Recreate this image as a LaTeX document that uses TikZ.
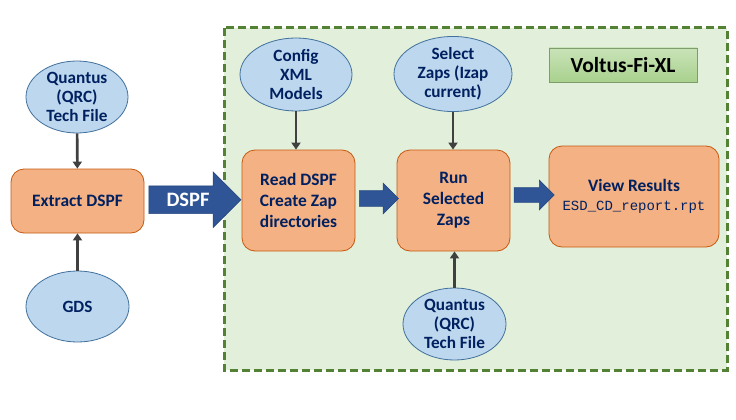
\documentclass[tikz,border=0pt]{standalone}
\usepackage{fontspec}
\setmainfont{Carlito}
\setmonofont{Liberation Mono}
\usetikzlibrary{arrows.meta,shapes.geometric,shapes.arrows,calc}
\definecolor{inputblue}{HTML}{BDD7EE}
\definecolor{inputline}{HTML}{41719C}
\definecolor{stepfill}{HTML}{F4B183}
\definecolor{stepline}{HTML}{C55A11}
\definecolor{navytext}{HTML}{002060}
\definecolor{flowblue}{HTML}{2F5597}
\definecolor{zonefill}{HTML}{E2EFDA}
\definecolor{zoneline}{HTML}{548235}
\definecolor{toolgreen}{HTML}{A9D18E}
\definecolor{toollight}{HTML}{C9E3B8}
\definecolor{feedgray}{HTML}{404040}

\begin{document}
\begin{tikzpicture}[x=1pt,y=-1pt,
    inputfile/.style={ellipse,draw=inputline,fill=inputblue,line width=0.8pt,inner sep=0pt,minimum width=102pt,minimum height=72pt,align=center,text=navytext,font=\fontsize{17.2}{19.2}\selectfont\bfseries},
    stepbox/.style={rectangle,rounded corners=13pt,draw=stepline,fill=stepfill,line width=0.8pt,inner sep=0pt,align=center,text=navytext,font=\fontsize{17.4}{20.8}\selectfont\bfseries},
    flow/.style={single arrow,draw=flowblue!85!black,fill=flowblue,line width=0.6pt,inner xsep=0pt,inner ysep=7.5pt,text height=0pt,text depth=0pt,single arrow head extend=7.5pt},
    feed/.style={draw=feedgray,line width=2.6pt,-{Triangle[length=7pt,width=9pt]}}]
      \fill [white] (0,0) rectangle (736,420);
      \useasboundingbox (0,0) rectangle (736,420);
      \draw [zoneline,fill=zonefill,line width=3pt,dash pattern=on 8pt off 4pt] (224,28) rectangle (727,370);

      \node [inputfile] (qrcleft) at (77,97) {Quantus\\(QRC)\\Tech File};
      \node [stepbox,minimum width=133pt,minimum height=64pt] (extract) at (77.5,201) {Extract DSPF};
      \node [inputfile,minimum width=103pt,minimum height=71pt] (gds) at (77.5,306.5) {GDS};

      \node [inputfile,minimum width=112pt,minimum height=73pt] (config) at (296,74.5) {Config\\XML\\Models};
      \node [stepbox,minimum width=113pt,minimum height=101pt] (read) at (298.5,200.5) {Read DSPF\\Create Zap\\directories};
      \node [inputfile,minimum width=118pt] (select) at (453,74) {Select\\Zaps (Izap\\current)};
      \node [stepbox,minimum width=113pt,minimum height=101pt] (run) at (453.5,200.5) {Run\\Selected\\Zaps};
      \node [inputfile,minimum width=103pt] (qrcright) at (454.5,324) {Quantus\\(QRC)\\Tech File};
      \node [stepbox,minimum width=170pt,minimum height=101pt] (view) at (634,196.5) {View Results\\[-2pt]{\mdseries\ttfamily\fontsize{14}{17}\selectfont ESD\_CD\_report.rpt}};

      \node [top color=toollight,bottom color=toolgreen,draw=toolgreen!75!black,line width=0.6pt,minimum width=148pt,minimum height=34pt,inner sep=0pt,font=\fontsize{21.5}{24}\selectfont\bfseries] (voltus) at (623,65) {Voltus-Fi-XL};

      \node [flow,minimum height=92pt,inner ysep=7pt,text height=13pt,single arrow head extend=14pt,text=white,font=\fontsize{20.5}{24}\selectfont\bfseries] (dspf) at ($(extract.east)!0.5!(read.west)+(-5,-1)$) {DSPF};
      \node [flow,minimum height=39pt] (readrun) at ($(read.east)!0.5!(run.west)+(-1,-2)$) {};
      \node [flow,minimum height=40pt,inner ysep=7pt] (runview) at ($(run.east)!0.5!(view.west)+(1,-3.5)$) {};

      \draw [feed] (qrcleft) -- (extract);
      \draw [feed] (gds) -- (extract);
      \draw [feed] (config) -- (config |- read.north);
      \draw [feed] (select) -- (select |- run.north);
      \draw [feed] (qrcright) -- (qrcright |- run.south);
    \end{tikzpicture}
\end{document}
